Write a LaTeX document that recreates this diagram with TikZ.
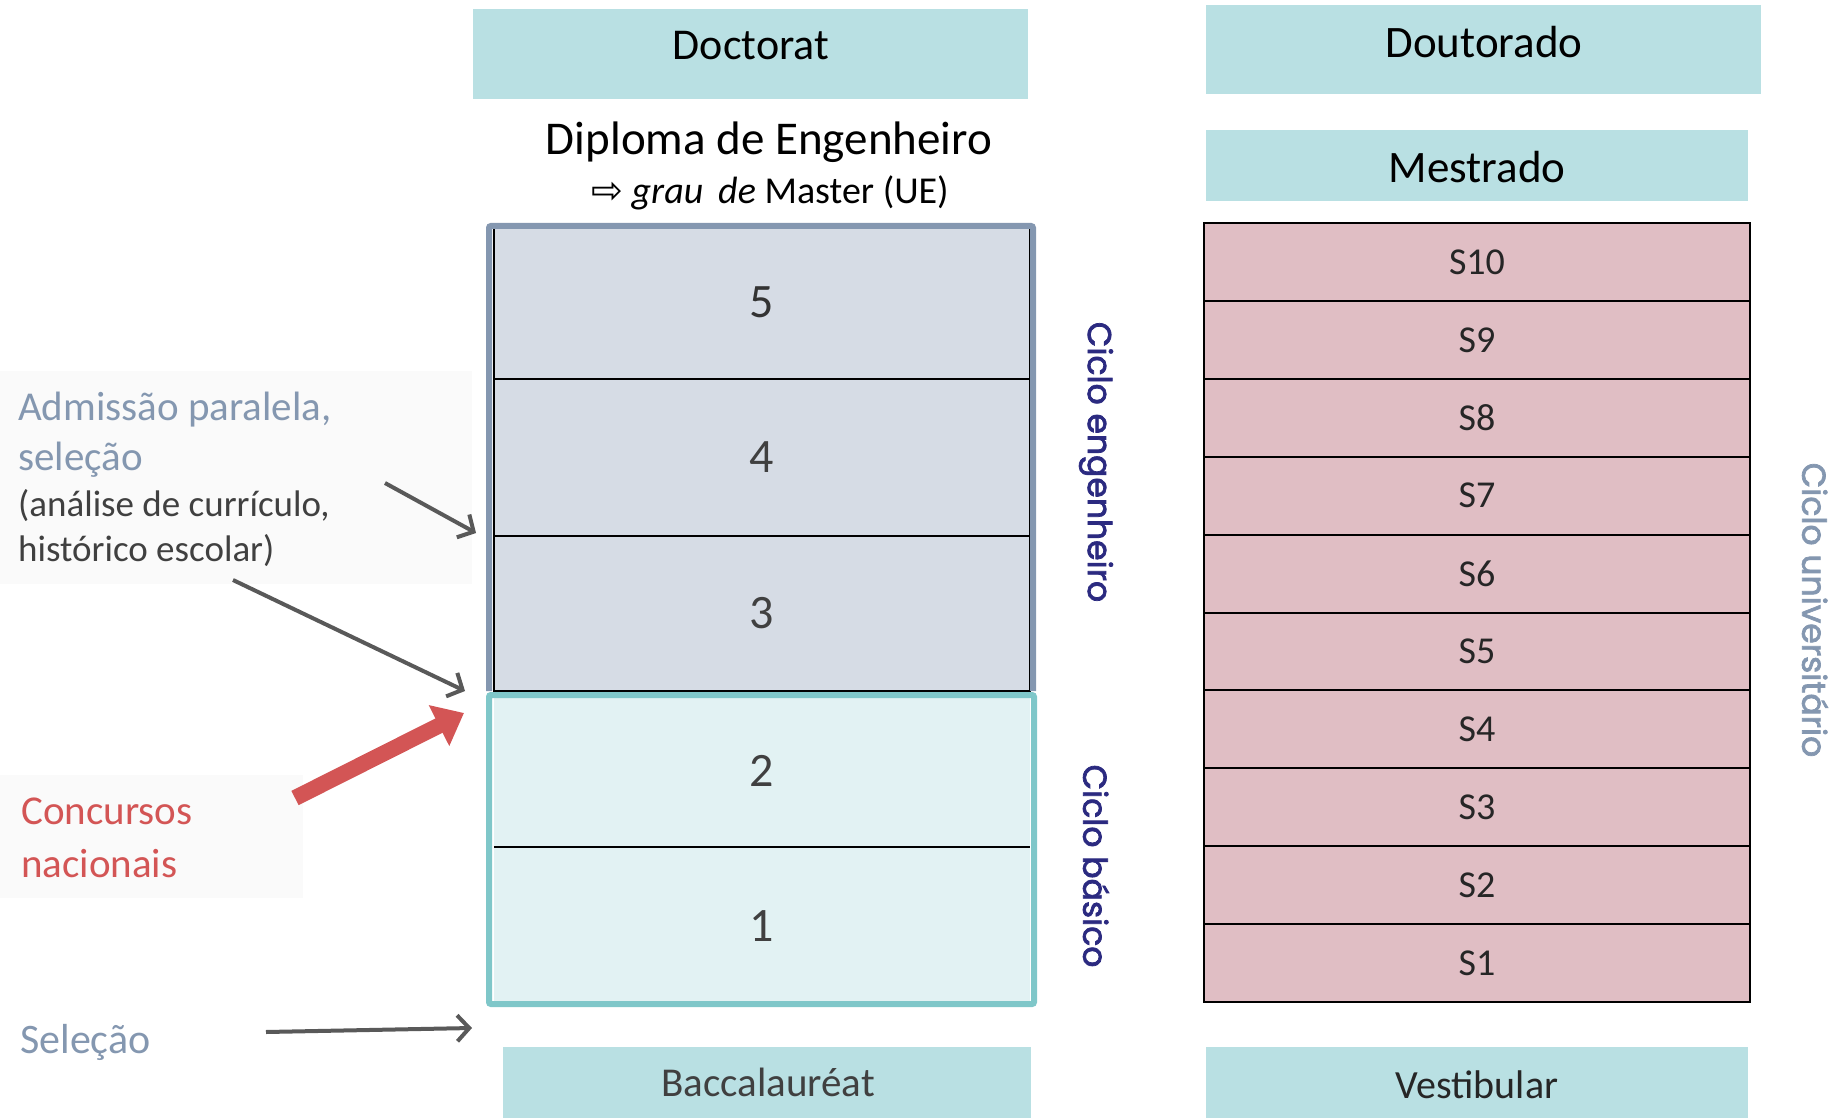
\documentclass[tikz,border=0pt]{standalone}
\usepackage{fontspec}
\setmainfont{Carlito}
\newfontfamily\geo[FakeBold=2.2]{Poppins}
\newfontfamily\dejavu{DejaVu Sans}
\usetikzlibrary{arrows.meta}
\definecolor{tealbox}{HTML}{B9E0E3}
\definecolor{engfill}{HTML}{D6DCE5}
\definecolor{engline}{HTML}{8497B0}
\definecolor{basfill}{HTML}{E2F2F3}
\definecolor{basline}{HTML}{7FC7C9}
\definecolor{pinkfill}{HTML}{E0BEC4}
\definecolor{navy}{HTML}{2B2A80}
\definecolor{slate}{HTML}{8497B0}
\definecolor{darktxt}{HTML}{404040}
\definecolor{redc}{HTML}{D35555}
\definecolor{arrgray}{HTML}{595959}
\definecolor{panel}{HTML}{FAFAFA}
\newcommand\fsz[1]{\fontsize{#1}{#1}\selectfont}
\tikzset{
  hdrbox/.style={fill=tealbox, draw=none, inner sep=0pt, anchor=north west},
  engcell/.style={fill=engfill, draw=black, line width=2pt, minimum width=536pt, inner sep=0pt, text=darktxt, font=\fsz{48}},
  bascell/.style={fill=basfill, draw=none, minimum width=536pt, inner sep=0pt, text=darktxt, font=\fsz{48}},
  semcell/.style={fill=pinkfill, draw=black, line width=2pt, minimum width=546pt, minimum height=77.9pt, inner sep=0pt, text=black!85, font=\fsz{38}},
  cyclelbl/.style={rotate=-90, font=\geo\fsz{33}, inner sep=0pt},
  grayarrow/.style={draw=arrgray, line width=4pt, -{Straight Barb[length=12pt,width=26pt]}},
  redarrow/.style={draw=redc, line width=16pt, -{Triangle[length=28pt,width=44pt]}},
}
\begin{document}
\begin{tikzpicture}[x=1pt,y=-1pt]
\useasboundingbox (0,0) rectangle (1842,1118);
% left panels
\fill[panel] (0,371) rectangle (472,584);
\fill[panel] (0,775) rectangle (303,898);
% header boxes left
\node[hdrbox, minimum width=555pt, minimum height=90pt] (doct) at (473,9) {};
\node[font=\fsz{44}] (doctt) at (751,46) {Doctorat};
\node[font=\fsz{47}] (dipl) at (769,142) {Diploma de Engenheiro};
\node[font=\fsz{38}] (grau) at (770,193) {{\dejavu\fsz{38}⇨} \textit{grau\, de} Master (UE)};
% engineering cycle cells
\node[engcell, minimum height=153pt] (e5) at (762,302.5) {\textcolor{black!80}{5}};
\node[engcell, minimum height=157pt] (e4) at (762,457.5) {4};
\node[engcell, minimum height=155pt] (e3) at (762,613.5) {3};
\draw[engline, line width=6pt, rounded corners=2pt] (489,691) -- (489,226) -- (1033,226) -- (1033,691);
% basic cycle cells
\node[bascell, minimum height=152pt] (b2) at (762,771) {2};
\node[bascell, minimum height=157pt] (b1) at (762,926.5) {1};
\draw[black, line width=2.5pt] (b2.south west) -- (b2.south east);
\draw[basline, line width=6pt, rounded corners=2pt] (489,695) rectangle (1034,1004);
% baccalaureat
\node[hdrbox, minimum width=528pt, minimum height=75pt] (bac) at (503,1047) {};
\node[font=\fsz{41}, text=darktxt] (bact) at (768,1082) {Baccalauréat};
% cycle labels
\node[cyclelbl, text=navy] (ceng) at (1096,462) {Ciclo engenheiro};
\node[cyclelbl, text=navy] (cbas) at (1096,866) {Ciclo básico};
\node[cyclelbl, text=slate] (cuni) at (1815,610) {Ciclo universitário};
% right column
\node[hdrbox, minimum width=555pt, minimum height=89pt] (dout) at (1206,5) {};
\node[font=\fsz{45}] (doutt) at (1484,42) {Doutorado};
\node[hdrbox, minimum width=542pt, minimum height=71pt] (mest) at (1206,130) {};
\node[font=\fsz{45}] (mestt) at (1477,167) {Mestrado};
\foreach \k in {10,...,1}{
  \node[semcell] (s\k) at (1477,{223+(10-\k)*77.9+38.95}) {S\k};
}
\node[hdrbox, minimum width=542pt, minimum height=75pt] (vest) at (1206,1047) {};
\node[font=\fsz{40}, text=black!85] (vestt) at (1477,1085) {Vestibular};
% left texts
\node[anchor=base west, inner sep=0pt, font=\fsz{41}, text=slate] (adm1) at (18,420) {Admissão paralela,};
\node[anchor=base west, inner sep=0pt, font=\fsz{41}, text=slate] (adm2) at (18,470) {seleção};
\node[anchor=base west, inner sep=0pt, font=\fsz{37}, text=darktxt] (adm3) at (18,516) {(análise de currículo,};
\node[anchor=base west, inner sep=0pt, font=\fsz{37}, text=darktxt] (adm4) at (18,561) {histórico escolar)};
\node[anchor=base west, inner sep=0pt, font=\fsz{41}, text=redc] (conc1) at (21,824) {Concursos};
\node[anchor=base west, inner sep=0pt, font=\fsz{41}, text=redc] (conc2) at (21,877) {nacionais};
\node[anchor=base west, inner sep=0pt, font=\fsz{42}, text=slate] (sel) at (20,1053) {Seleção};
% arrows
\coordinate (a1s) at (385,483);
\coordinate (a1e) at (476,533);
\coordinate (a2s) at (233,580);
\coordinate (a2e) at (465,691);
\coordinate (rs) at (295,798);
\coordinate (re) at (464,713);
\coordinate (a4s) at (266,1032);
\coordinate (a4e) at (472,1028);
\draw[grayarrow] (a1s) -- (a1e);
\draw[grayarrow] (a2s) -- (a2e);
\draw[redarrow] (rs) -- (re);
\draw[grayarrow] (a4s) -- (a4e);
\end{tikzpicture}
\end{document}
